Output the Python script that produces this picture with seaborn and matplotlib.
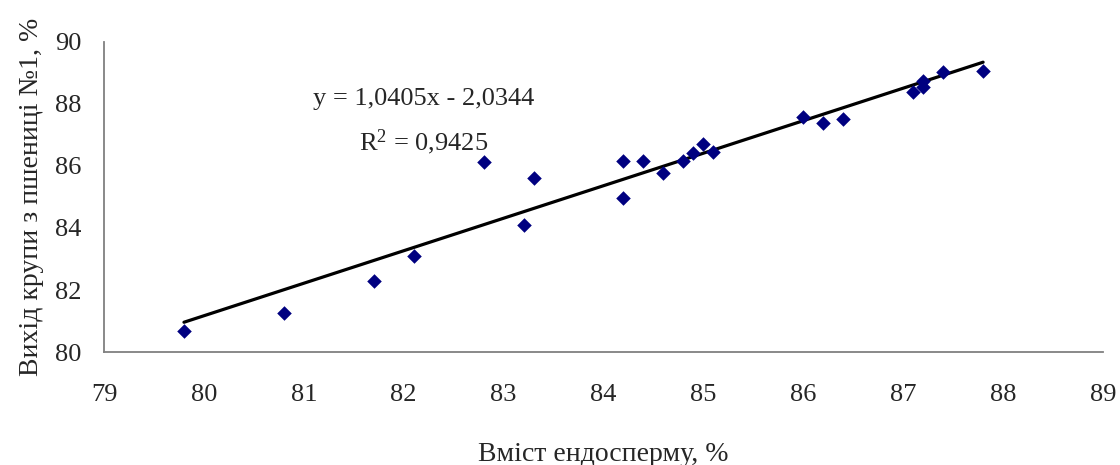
import numpy as np
import pandas as pd
import seaborn as sns
import matplotlib
matplotlib.use("Agg")
import matplotlib.pyplot as plt

# values
endosperm = [79.8, 80.8, 81.7, 82.1, 82.8, 83.2, 83.3, 84.2, 84.2, 84.4, 84.6, 84.8,
             84.9, 85.0, 85.1, 86.0, 86.2, 86.4, 87.1, 87.2, 87.2, 87.4, 87.8]
groats_yield = [80.68, 81.26, 82.29, 83.10, 86.13, 84.10, 85.60, 86.17, 84.97, 86.17, 85.77, 86.17,
                86.43, 86.70, 86.46, 87.58, 87.39, 87.52, 88.39, 88.55, 88.74, 89.03, 89.06]
x_ticks = list(range(79, 90))
y_ticks = list(range(80, 91, 2))
eq_text = "y = 1,0405x - 2,0344"
r2_text = "R$^2$ = 0,9425"
x_label = "Вміст ендосперму, %"
y_label = "Вихід крупи з пшениці №1, %"

df = pd.DataFrame({"x": endosperm, "y": groats_yield})

sns.set_style("white")
plt.rcParams["font.family"] = ["Liberation Serif", "DejaVu Serif"]
plt.rcParams["mathtext.fontset"] = "custom"
plt.rcParams["mathtext.rm"] = "Liberation Serif"
plt.rcParams["mathtext.it"] = "Liberation Serif"

fig, ax = plt.subplots(figsize=(11.2, 4.65), dpi=100)
fig.subplots_adjust(left=0.0929, right=0.9848, top=0.9097, bottom=0.2430)

# trend line (least squares over the data range)
sns.regplot(data=df, x="x", y="y", scatter=False, ci=None, truncate=True,
            line_kws={"color": "black", "lw": 2.3}, ax=ax)
sns.scatterplot(data=df, x="x", y="y", marker="D", s=55, color="#000080",
                edgecolor="#000080", linewidth=0, zorder=3, ax=ax)

ax.set_xlim(79, 89)
ax.set_ylim(80, 90)
ax.set_xticks(x_ticks)
ax.set_yticks(y_ticks)

for side in ["top", "right"]:
    ax.spines[side].set_visible(False)
for side in ["left", "bottom"]:
    ax.spines[side].set_color("#808080")
    ax.spines[side].set_linewidth(1.3)

ax.tick_params(axis="x", direction="out", length=7, width=1.3, color="#808080",
               pad=16, labelsize=19)
ax.tick_params(axis="y", direction="out", length=6, width=1.3, color="#808080",
               pad=10, labelsize=19)
ax.set_xlabel(x_label, fontsize=20, labelpad=26)
ax.set_ylabel(y_label, fontsize=20, labelpad=8)

ax.text(0.32, 0.815, eq_text, transform=ax.transAxes, ha="center", va="center", fontsize=19)
ax.text(0.32, 0.677, r2_text, transform=ax.transAxes, ha="center", va="center", fontsize=19)

fig.savefig("out.png", dpi=100)
